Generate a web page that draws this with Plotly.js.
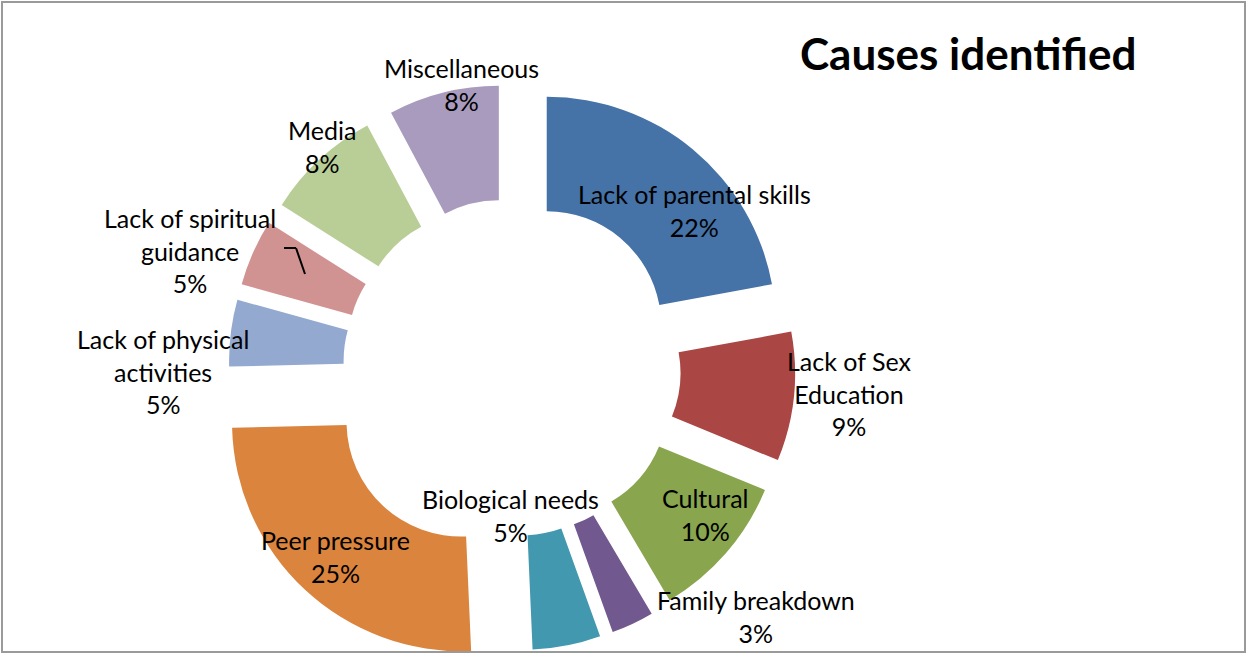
<!DOCTYPE html>
<html><head><meta charset="utf-8">
<script src="https://cdn.plot.ly/plotly-3.0.1.min.js"></script>
<style>html,body{margin:0;padding:0;overflow:hidden;background:#fff}#chart{width:1247px;height:700px}</style>
</head><body><div id="chart"></div>
<script>
// ---- data (shares; labels show the rounded %) ----
const categories = ["Lack of parental skills","Lack of Sex Education","Cultural","Family breakdown","Biological needs","Peer pressure","Lack of physical activities","Lack of spiritual guidance","Media","Miscellaneous"];
const values = [22.1, 9.1, 10.3, 3.0, 4.8, 25.3, 4.7, 4.7, 8.2, 7.8];
const labelText = ["Lack of parental skills","Lack of Sex<br>Education","Cultural","Family breakdown","Biological needs","Peer pressure","Lack of physical<br>activities","Lack of spiritual<br>guidance","Media","Miscellaneous"];
const chartTitle = "Causes identified";

// ---- styles / layout ----
const colors = ["#4572A7","#AA4643","#89A54E","#71588F","#4198AF","#DB843D","#93A9CF","#D19392","#B9CD96","#A99BBD"];
const pulls = [0.237,0.237,0.237,0.237,0.237,0.326,0.237,0.237,0.237,0.237];
const labelPos = [[694,211],[849,393],[705,514],[756,616],[510,515],[335,556],[163,371],[190,251],[322,146],[461,84]];
const W = 1247, H = 700;
const px = x => x / W, py = y => 1 - y / H;
const FONT = "Lato, 'Open Sans', sans-serif";
const CX = 512, CY = 367.5, HALF = 303.7;

const total = values.reduce((a,b)=>a+b,0);
const annotations = categories.map((c,i)=>({
  text: labelText[i] + "<br>" + Math.round(values[i]/total*100) + "%",
  x: px(labelPos[i][0]), y: py(labelPos[i][1]), xref:"paper", yref:"paper",
  xanchor:"center", yanchor:"middle", align:"center", showarrow:false,
  font:{family:FONT, size:25, color:"#000"}
}));
annotations.push({
  text:"<b>"+chartTitle+"</b>", x:px(968), y:py(53), xref:"paper", yref:"paper",
  xanchor:"center", yanchor:"middle", showarrow:false,
  font:{family:FONT, size:44, color:"#000"}
});

const trace = {
  type:"pie", labels:categories, values:values, hole:0.5, sort:false,
  direction:"clockwise", rotation:0, pull:pulls,
  marker:{colors:colors, line:{width:0}},
  textinfo:"none", hoverinfo:"label+percent", showlegend:false,
  domain:{x:[(CX-HALF)/W, (CX+HALF)/W], y:[py(CY+HALF), py(CY-HALF)]}
};

const layout = {
  width:W, height:H, margin:{l:0,r:0,t:0,b:0},
  paper_bgcolor:"#fff", plot_bgcolor:"#fff", showlegend:false,
  annotations:annotations,
  shapes:[
    {type:"rect", xref:"paper", yref:"paper", x0:px(2), x1:px(1245), y0:py(652), y1:py(2), line:{color:"#9a9a9a", width:2}},
    {type:"line", xref:"paper", yref:"paper", x0:px(284), y0:py(248), x1:px(296), y1:py(248), line:{color:"#000", width:2}},
    {type:"line", xref:"paper", yref:"paper", x0:px(296), y0:py(248), x1:px(305), y1:py(274), line:{color:"#000", width:2}}
  ]
};
Plotly.newPlot("chart", [trace], layout, {staticPlot:true, displayModeBar:false});
</script></body></html>
